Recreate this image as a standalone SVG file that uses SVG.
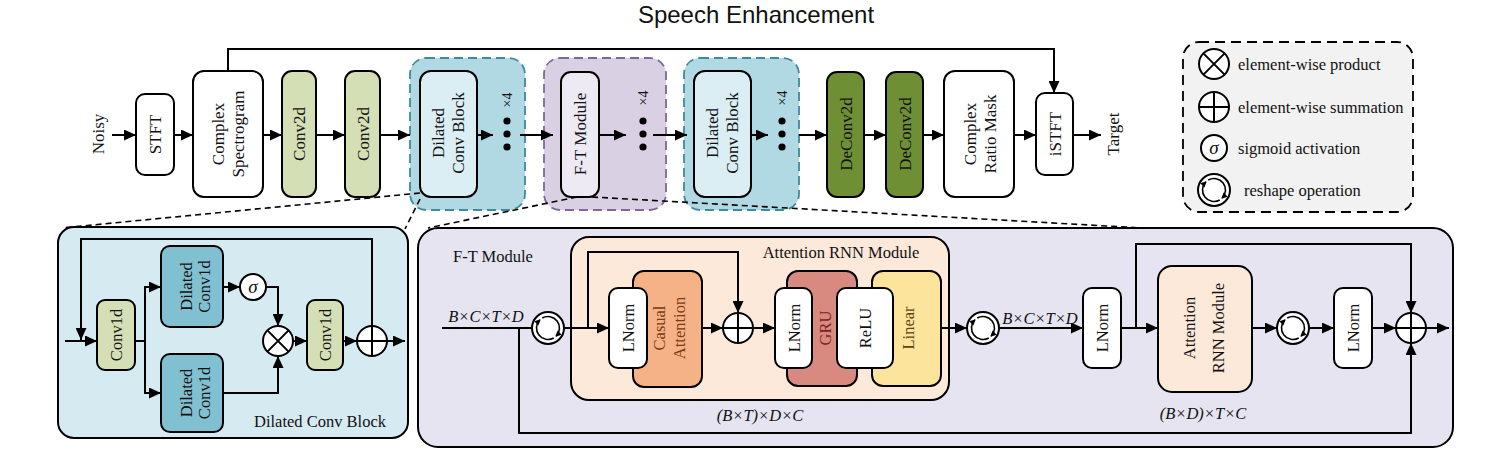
<svg xmlns="http://www.w3.org/2000/svg" width="1507" height="475" viewBox="0 0 1507 475">
<defs>
<style>
.ln{fill:none;stroke:#000;stroke-width:2}
.ar{marker-end:url(#ah)}
.bx{stroke:#000;stroke-width:2}
.t{font-family:"Liberation Serif","Times New Roman",serif;font-size:17px;fill:#111;text-anchor:middle}
.s{font-size:16.5px}
.i{font-style:italic}
.st{text-anchor:start}
.dash{fill:none;stroke:#000;stroke-width:1.6;stroke-dasharray:6 4}
.cb{stroke:#3f8a9c;stroke-width:1.8;stroke-dasharray:9 5;fill:#b1d9e4}
.cf{stroke:#7d6898;stroke-width:1.8;stroke-dasharray:9 5;fill:#d9d1e3}
.olive{fill:#d5dfb5}
.dk{fill:#6f8f34}
.teal{fill:#80c0d0}
.dot{fill:#000}
</style>
<marker id="ah" markerUnits="userSpaceOnUse" markerWidth="13" markerHeight="11" refX="12" refY="5.5" orient="auto"><path d="M0,0 L12,5.5 L0,11 z" fill="#000"/></marker>
<marker id="rh" markerUnits="userSpaceOnUse" markerWidth="7" markerHeight="7" refX="5" refY="3" orient="auto"><path d="M0,0 L6,3 L0,6 z" fill="#000"/></marker>
<g id="reshape">
<circle r="16" fill="#fff" stroke="#000" stroke-width="2"/>
<path d="M5.75 9.96 A11.5 11.5 0 0 1 -8.13 -8.13" fill="none" stroke="#000" stroke-width="1.6" marker-end="url(#rh)"/>
<path d="M-5.75 -9.96 A11.5 11.5 0 0 1 8.13 8.13" fill="none" stroke="#000" stroke-width="1.6" marker-end="url(#rh)"/>
</g>
<g id="oplus"><circle r="15" fill="#fff" stroke="#000" stroke-width="2"/><path d="M-15 0H15M0 -15V15" stroke="#000" stroke-width="2"/></g>
<g id="otimes"><circle r="15" fill="#fff" stroke="#000" stroke-width="2"/><path d="M-10.6 -10.6L10.6 10.6M-10.6 10.6L10.6 -10.6" stroke="#000" stroke-width="2"/></g>
</defs>
<rect width="1507" height="475" fill="#fff"/>

<text x="756" y="23" style="font-family:'Liberation Sans',Arial,sans-serif;font-size:24px;fill:#111;text-anchor:middle">Speech Enhancement</text>

<!-- panels -->
<g id="panel-dilated">
<rect x="58" y="227" width="350" height="211" rx="16" fill="#d6eaf1" class="bx"/>
<text class="t s st" x="254" y="427">Dilated Conv Block</text>
</g>
<g id="panel-ft">
<rect x="418" y="228" width="1035" height="219" rx="20" fill="#e6e4f0" class="bx"/>
<text class="t s st" x="453" y="262">F-T Module</text>
</g>
<g id="attn-container">
<rect x="571" y="237" width="378" height="163" rx="18" fill="#fce9da" class="bx"/>
<text class="t s" x="841" y="258">Attention RNN Module</text>
</g>

<!-- top containers -->
<g id="cont-dil1"><rect x="410" y="58" width="115" height="152" rx="16" class="cb"/></g>
<g id="cont-ft"><rect x="544" y="58" width="122" height="152" rx="16" class="cf"/></g>
<g id="cont-dil2"><rect x="684" y="58" width="115" height="152" rx="16" class="cb"/></g>

<!-- legend -->
<g id="legend">
<rect x="1183" y="42" width="230" height="170" rx="16" fill="#f2f2f2" stroke="#000" stroke-width="1.8" stroke-dasharray="10 6"/>
<use href="#otimes" x="1214" y="64"/>
<use href="#oplus" x="1214" y="107"/>
<circle cx="1214" cy="148" r="13" fill="#fff" stroke="#000" stroke-width="2"/>
<text class="t i" x="1214" y="154" style="font-size:19px">σ</text>
<use href="#reshape" x="1214" y="190"/>
<g style="font-family:'Liberation Serif','Times New Roman',serif;font-size:16.5px;fill:#111">
<text x="1238" y="70" style="font-family:'Liberation Serif','Times New Roman',serif">element-wise product</text>
<text x="1238" y="113" style="font-family:'Liberation Serif','Times New Roman',serif">element-wise summation</text>
<text x="1238" y="154" style="font-family:'Liberation Serif','Times New Roman',serif">sigmoid activation</text>
<text x="1244" y="196" style="font-family:'Liberation Serif','Times New Roman',serif">reshape operation</text>
</g>
</g>

<!-- connectors -->
<g id="connectors">
<path class="ln ar" d="M112 135H136"/>
<path class="ln ar" d="M174 135H193"/>
<path class="ln ar" d="M263 135H282"/>
<path class="ln ar" d="M316 135H345"/>
<path class="ln ar" d="M380 135H410"/>
<path class="ln ar" d="M467 135H493"/>
<path class="ln ar" d="M520 135H553"/>
<path class="ln ar" d="M599 135H626"/>
<path class="ln ar" d="M653 135H687"/>
<path class="ln ar" d="M741 135H768"/>
<path class="ln ar" d="M799 135H827"/>
<path class="ln ar" d="M864 135H886"/>
<path class="ln ar" d="M923 135H944"/>
<path class="ln ar" d="M1014 135H1036"/>
<path class="ln ar" d="M1073 135H1101"/>
<path class="ln ar" d="M228 71V49H1054V93"/>
<!-- zoom dashed lines -->
<path class="dash" d="M420 193L62 228"/>
<path class="dash" d="M420 199L405 229"/>
<path class="dash" d="M577 197L428 228"/>
<path class="dash" d="M592 197L1142 228"/>
<!-- dilated conv block -->
<path class="ln ar" d="M65 341H97"/>
<path class="ln ar" d="M372 326V239H81V340"/>
<path class="ln" d="M135 341H145"/>
<path class="ln ar" d="M145 341V287H161"/>
<path class="ln ar" d="M145 341V393H161"/>
<path class="ln ar" d="M223 287H240"/>
<path class="ln ar" d="M266 287H278V326"/>
<path class="ln ar" d="M223 393H278V356"/>
<path class="ln ar" d="M293 341H307"/>
<path class="ln ar" d="M343 341H357"/>
<path class="ln ar" d="M387 341H405"/>
<!-- F-T module -->
<path class="ln" d="M442 328H532"/>
<path class="ln ar" d="M519 328V433H1411V343"/>
<path class="ln ar" d="M564 328H609"/>
<path class="ln ar" d="M588 328V252H738V313"/>
<path class="ln ar" d="M702 328H723"/>
<path class="ln ar" d="M753 328H775"/>
<path class="ln ar" d="M941 328H967"/>
<path class="ln ar" d="M999 328H1083"/>
<path class="ln ar" d="M1121 328H1158"/>
<path class="ln ar" d="M1136 328V244H1411V313"/>
<path class="ln ar" d="M1252 328H1277"/>
<path class="ln ar" d="M1309 328H1334"/>
<path class="ln ar" d="M1372 328H1396"/>
<path class="ln ar" d="M1426 328H1449"/>
</g>

<!-- top row nodes -->
<g id="noisy"><text class="t" transform="translate(98 134) rotate(-90)" y="6">Noisy</text></g>
<g id="stft"><rect x="136" y="94" width="38" height="81" rx="9" fill="#fff" class="bx"/><text class="t" transform="translate(155 134.5) rotate(-90)" y="6">STFT</text></g>
<g id="spec"><rect x="193" y="71" width="70" height="126" rx="11" fill="#fff" class="bx"/><text class="t" transform="translate(228 134) rotate(-90)"><tspan x="0" y="-4">Complex</tspan><tspan x="0" y="15.5">Spectrogram</tspan></text></g>
<g id="conv2d-1"><rect x="282" y="71" width="34" height="126" rx="10" class="olive bx"/><text class="t" transform="translate(299 134) rotate(-90)" y="6">Conv2d</text></g>
<g id="conv2d-2"><rect x="345" y="71" width="35" height="126" rx="10" class="olive bx"/><text class="t" transform="translate(362.5 134) rotate(-90)" y="6">Conv2d</text></g>
<g id="dil1"><rect x="420" y="71" width="57" height="126" rx="11" fill="#dbeef4" class="bx"/><text class="t" transform="translate(448 133) rotate(-90)"><tspan x="0" y="-4">Dilated</tspan><tspan x="0" y="16">Conv Block</tspan></text></g>
<g id="rep1"><circle class="dot" cx="507" cy="121" r="3.6"/><circle class="dot" cx="507" cy="134" r="3.6"/><circle class="dot" cx="507" cy="147" r="3.6"/><text class="t" style="font-size:14px" transform="translate(507 100) rotate(-90)" y="5">×4</text></g>
<g id="ft"><rect x="561" y="72" width="38" height="125" rx="10" fill="#eeeaf4" class="bx"/><text class="t" transform="translate(580 134) rotate(-90)" y="6">F-T Module</text></g>
<g id="rep2"><circle class="dot" cx="643" cy="121" r="3.6"/><circle class="dot" cx="643" cy="134" r="3.6"/><circle class="dot" cx="643" cy="147" r="3.6"/><text class="t" style="font-size:14px" transform="translate(643 98) rotate(-90)" y="5">×4</text></g>
<g id="dil2"><rect x="694" y="71" width="57" height="126" rx="11" fill="#dbeef4" class="bx"/><text class="t" transform="translate(722 133) rotate(-90)"><tspan x="0" y="-4">Dilated</tspan><tspan x="0" y="16">Conv Block</tspan></text></g>
<g id="rep3"><circle class="dot" cx="782" cy="121" r="3.6"/><circle class="dot" cx="782" cy="134" r="3.6"/><circle class="dot" cx="782" cy="147" r="3.6"/><text class="t" style="font-size:14px" transform="translate(782 98) rotate(-90)" y="5">×4</text></g>
<g id="deconv-1"><rect x="827" y="72" width="37" height="125" rx="10" class="dk bx"/><text class="t" transform="translate(845.5 134) rotate(-90)" y="6">DeConv2d</text></g>
<g id="deconv-2"><rect x="886" y="72" width="37" height="125" rx="10" class="dk bx"/><text class="t" transform="translate(904.5 134) rotate(-90)" y="6">DeConv2d</text></g>
<g id="crm"><rect x="944" y="71" width="70" height="126" rx="11" fill="#fff" class="bx"/><text class="t" transform="translate(980 134) rotate(-90)"><tspan x="0" y="-4">Complex</tspan><tspan x="0" y="16">Ratio Mask</tspan></text></g>
<g id="istft"><rect x="1036" y="93" width="37" height="82" rx="9" fill="#fff" class="bx"/><text class="t" transform="translate(1054.5 134) rotate(-90)" y="6">iSTFT</text></g>
<g id="target"><text class="t" transform="translate(1113 134) rotate(-90)" y="6">Target</text></g>

<!-- dilated conv block nodes -->
<g id="conv1d-1"><rect x="97" y="300" width="38" height="70" rx="8" class="olive bx"/><text class="t s" transform="translate(116 335) rotate(-90)" y="6">Conv1d</text></g>
<g id="dconv1d-1"><rect x="161" y="246" width="62" height="81" rx="9" class="teal bx"/><text class="t s" transform="translate(195 286.5) rotate(-90)"><tspan x="0" y="-3">Dilated</tspan><tspan x="0" y="15">Conv1d</tspan></text></g>
<g id="dconv1d-2"><rect x="161" y="354" width="62" height="78" rx="9" class="teal bx"/><text class="t s" transform="translate(195 393) rotate(-90)"><tspan x="0" y="-3">Dilated</tspan><tspan x="0" y="15">Conv1d</tspan></text></g>
<g id="sigma"><circle cx="253" cy="287" r="13" fill="#fff" stroke="#000" stroke-width="2"/><text class="t i" x="253" y="293" style="font-size:19px">σ</text></g>
<g id="mul"><use href="#otimes" x="278" y="341"/></g>
<g id="conv1d-2"><rect x="307" y="300" width="36" height="70" rx="8" class="olive bx"/><text class="t s" transform="translate(325 335) rotate(-90)" y="6">Conv1d</text></g>
<g id="add1"><use href="#oplus" x="372" y="341"/></g>

<!-- F-T module nodes -->
<text class="t s i" x="486" y="322">B×C×T×D</text>
<g id="reshape1"><use href="#reshape" x="548" y="328"/></g>
<g id="casual"><rect x="633" y="271" width="69" height="116" rx="11" fill="#f5b286" class="bx"/><text class="t s" style="fill:#7a3a12" transform="translate(669 328) rotate(-90)"><tspan x="0" y="-4">Casual</tspan><tspan x="0" y="16">Attention</tspan></text></g>
<g id="lnorm1"><rect x="609" y="288" width="38" height="80" rx="9" fill="#fff" class="bx"/><text class="t s" transform="translate(628 328) rotate(-90)" y="6">LNorm</text></g>
<g id="add2"><use href="#oplus" x="738" y="328"/></g>
<g id="gru"><rect x="787" y="271" width="70" height="115" rx="11" fill="#d88a80" class="bx"/><text class="t s" style="fill:#7e1e1e" transform="translate(824.5 328) rotate(-90)" y="6">GRU</text></g>
<g id="linear"><rect x="872" y="271" width="69" height="115" rx="11" fill="#fde49c" class="bx"/><text class="t s" style="fill:#5a4510" transform="translate(908 328) rotate(-90)" y="6">Linear</text></g>
<g id="lnorm2"><rect x="775" y="288" width="37" height="80" rx="9" fill="#fff" class="bx"/><text class="t s" transform="translate(793.5 328) rotate(-90)" y="6">LNorm</text></g>
<g id="relu"><rect x="837" y="288" width="56" height="80" rx="9" fill="#fff" class="bx"/><text class="t s" transform="translate(865 328) rotate(-90)" y="6">ReLU</text></g>
<text class="t s i" x="760" y="421">(B×T)×D×C</text>
<g id="reshape2"><use href="#reshape" x="983" y="328"/></g>
<text class="t s i" x="1040" y="324">B×C×T×D</text>
<g id="lnorm3"><rect x="1083" y="288" width="38" height="80" rx="9" fill="#fff" class="bx"/><text class="t s" transform="translate(1102 328) rotate(-90)" y="6">LNorm</text></g>
<g id="attn-rnn"><rect x="1158" y="266" width="94" height="126" rx="14" fill="#fce9da" class="bx"/><text class="t s" transform="translate(1203 328) rotate(-90)"><tspan x="0" y="-8.5">Attention</tspan><tspan x="0" y="20.5">RNN Module</tspan></text></g>
<text class="t s i" x="1203" y="419">(B×D)×T×C</text>
<g id="reshape3"><use href="#reshape" x="1293" y="328"/></g>
<g id="lnorm4"><rect x="1334" y="288" width="38" height="80" rx="9" fill="#fff" class="bx"/><text class="t s" transform="translate(1353 328) rotate(-90)" y="6">LNorm</text></g>
<g id="add3"><use href="#oplus" x="1411" y="328"/></g>
</svg>
